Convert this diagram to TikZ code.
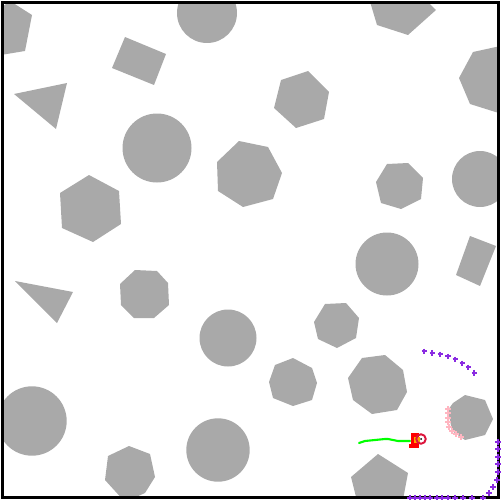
\documentclass[tikz,border=0pt]{standalone}
\usepackage{tikz}
\usetikzlibrary{arrows.meta,positioning}
\definecolor{obstGray}{HTML}{A9A9A9}
\definecolor{scanViolet}{HTML}{8A2BE2}
\definecolor{hitPink}{HTML}{FFB6C1}
\definecolor{pathGreen}{HTML}{00FF00}
\definecolor{robotRed}{HTML}{FF0000}
\definecolor{ringCrimson}{HTML}{DC143C}
\definecolor{bodyOrange}{HTML}{FFA500}
\tikzset{plusmark/.pic={\draw (-2.8,0) -- (2.8,0) (0,-2.8) -- (0,2.8);}}

\begin{document}
\begin{tikzpicture}[
    x=0.02cm,y=-0.02cm,
    obst/.style={fill=obstGray,draw=none},
    scanpt/.style={draw=scanViolet,line width=1.3pt},
    hitpt/.style={draw=hitPink,line width=1.3pt},
    trail/.style={draw=pathGreen,line width=1.2pt,line join=round,line cap=round},
    ring/.style={circle,draw=ringCrimson,line width=1.1pt,minimum size=0.19cm,inner sep=0pt}
  ]
  \useasboundingbox (0,0) rectangle (500,500);
  %% Obstacles, cut at the arena wall
  \begin{scope}
    \clip (2.5,2.5) rectangle (498,497.5);
    \fill[obst] (-15,20) -- (10,1) -- (32,15) -- (25,51) -- (-5,56) -- cycle;
    \fill[obst] (207,13) circle[radius=30];
    \fill[obst] (125,37) -- (166,54) -- (154,85) -- (112,68) -- cycle;
    \fill[obst] (14,94) -- (67,83) -- (56,129) -- cycle;
    \fill[obst] (157,148) circle[radius=34.5];
    \fill[obst] (89,175) -- (119,191) -- (121,224) -- (93,242) -- (62,228) -- (60,193) -- cycle;
    \fill[obst] (239,141) -- (268,147) -- (282,173) -- (273,199) -- (243,207) -- (218,191) -- (217,162) -- cycle;
    \fill[obst] (405,-20) -- (436,10) -- (408,35) -- (377,25) -- (368,-5) -- cycle;
    \fill[obst] (281,80) -- (308,71) -- (329,92) -- (324,119) -- (296,128) -- (274,108) -- cycle;
    \fill[obst] (473,52) -- (505,45) -- (520,78) -- (505,115) -- (470,104) -- (459,78) -- cycle;
    \fill[obst] (387,164) -- (408,163) -- (423,178) -- (421,199) -- (401,209) -- (381,203) -- (376,182) -- cycle;
    \fill[obst] (480,179) circle[radius=28];
    \fill[obst] (387,264) circle[radius=31.5];
    \fill[obst] (470,236) -- (496,246) -- (480,286) -- (456,275) -- cycle;
    \fill[obst] (15,281) -- (73,292) -- (57,323) -- cycle;
    \fill[obst] (135,270) -- (157,271) -- (168,283) -- (169,305) -- (154,318) -- (134,318) -- (121,305) -- (120,284) -- cycle;
    \fill[obst] (228,338) circle[radius=28.5];
    \fill[obst] (325,304) -- (346,303) -- (359,318) -- (356,338) -- (337,348) -- (318,339) -- (314,322) -- cycle;
    \fill[obst] (275,365) -- (293,358) -- (312,368) -- (317,383) -- (312,400) -- (293,406) -- (273,398) -- (269,382) -- cycle;
    \fill[obst] (362,358) -- (385,355) -- (403,370) -- (407,392) -- (397,410) -- (372,414) -- (353,400) -- (348,378) -- cycle;
    \fill[obst] (453,403) -- (465,395) -- (485,400) -- (493,419) -- (485,435) -- (465,440) -- (452,431) -- (448,410) -- cycle;
    \fill[obst] (32,421) circle[radius=34.7];
    \fill[obst] (218,450) circle[radius=31.7];
    \fill[obst] (129,446) -- (150,454) -- (155,477) -- (145,493) -- (125,502) -- (105,480) -- (108,456) -- cycle;
    \fill[obst] (378,454) -- (408,473) -- (402,505) -- (358,505) -- (351,477) -- cycle;
  \end{scope}
  %% Arena wall
  \draw[line width=1.7pt] (2.5,2.5) rectangle (498,497.5);
  %% Travelled path
  \coordinate (start) at (359,443);
  \coordinate (tail) at (410,441);
  \draw[trail] (start) -- (365,441) -- (375,440) -- (385,439) -- (388,439) -- (398,441) -- (tail);
  %% Robot
  \fill[robotRed] (411,433) rectangle (419,448);
  \fill[robotRed] (409,444) rectangle (414,448);
  \fill[bodyOrange] (414,436.5) rectangle (420,443);
  \node[ring] (robot) at (421,439) {};
  \fill (robot.center) circle[radius=1];
  %% Contact points on the near obstacle
  \foreach \x/\y in {448/409,448/413,448/418,448/422,449/427,452/431,456/434,461/437}
    \pic[hitpt] at (\x,\y) {plusmark};
  %% Scan points
  \foreach \x/\y in {424.3/351.3,432.3/352.7,440.3/354.3,447.7/356.3,455.3/359.3,462.3/363.3,468.3/367.3,474.3/372.7}
    \pic[scanpt] at (\x,\y) {plusmark};
  \foreach \x/\y in {498/442,498/449,498/457,498/464,498/472,497/480,493/487,489/493,
                     410/498,415/498,420/498,425/498,430/498,437/498,442/498,448/498,
                     455/498,463/498,472/498,483/498}
    \pic[scanpt] at (\x,\y) {plusmark};
\end{tikzpicture}
\end{document}
